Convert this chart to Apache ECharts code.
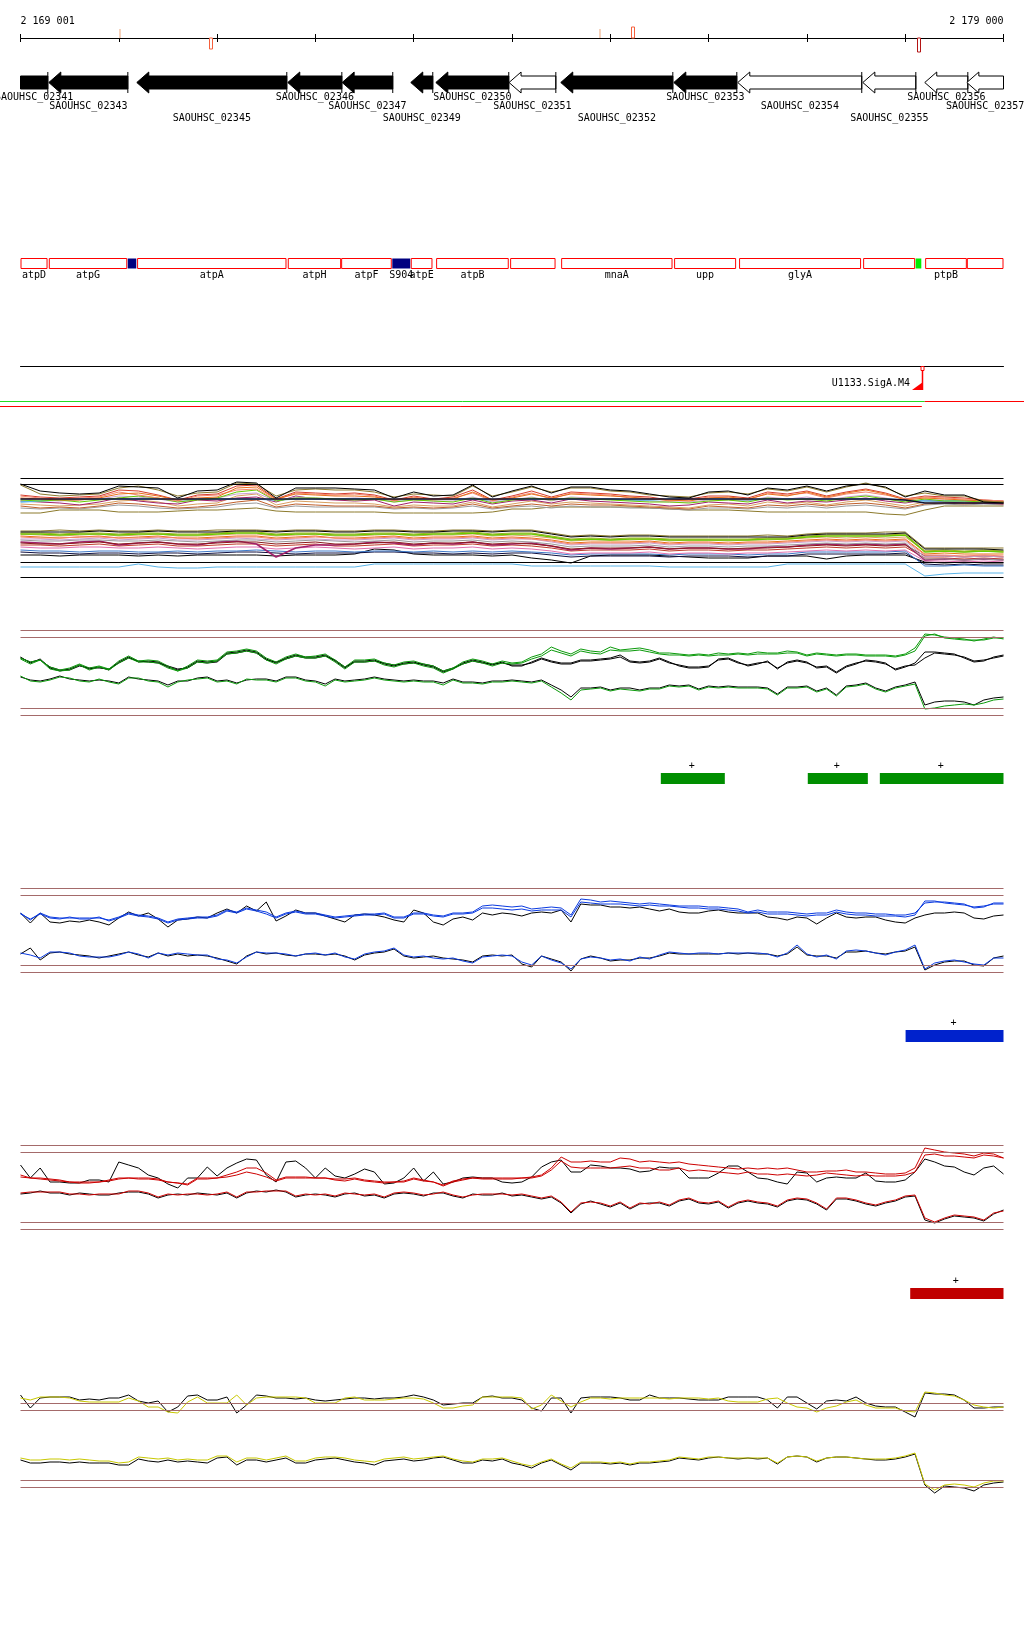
<!DOCTYPE html>
<html><head><meta charset="utf-8">
<script src="https://cdn.jsdelivr.net/npm/echarts@6/dist/echarts.min.js"></script>
<style>html,body{margin:0;padding:0;background:#fff}#c{width:1024px;height:1640px}</style>
</head><body><div id="c"></div>
<script>
// ---------------- data ----------------
const X_MIN = 2169000, X_MAX = 2179000, X_STEP = 1000;
const rulerLabels = ['2 169 001', '2 179 000'];
const rulerMarkPos = [2170010, 2170936, 2174900, 2175236, 2178138];
const rulerMarkType = ['peach', 'red', 'peach', 'redUp', 'dark'];

const geneNames = ['SAOUHSC_02341','SAOUHSC_02343','SAOUHSC_02345','SAOUHSC_02346','SAOUHSC_02347','SAOUHSC_02349','SAOUHSC_02350','SAOUHSC_02351','SAOUHSC_02352','SAOUHSC_02353','SAOUHSC_02354','SAOUHSC_02355','SAOUHSC_02356','SAOUHSC_02357'];
const geneStart = [2168700,2169288,2170183,2171719,2172272,2172970,2173225,2173970,2174496,2175646,2176297,2177569,2178199,2178627];
const geneEnd   = [2169278,2170092,2171709,2172269,2172787,2173194,2173967,2174446,2175636,2176287,2177558,2178108,2178637,2179300];
const geneFilled = [1,1,1,1,1,1,1,0,1,1,0,0,0,0];

const featNames = ['atpD','atpG','','atpA','atpH','atpF','S904','atpE','atpB','','mnaA','upp','glyA','','','ptpB',''];
const featStart = [2168700,2169288,2170086,2170186,2171719,2172262,2172777,2172970,2173228,2173981,2174500,2175649,2176310,2177572,2178101,2178203,2178627];
const featEnd   = [2169275,2170086,2170183,2171706,2172262,2172777,2172970,2173191,2173967,2174443,2175633,2176280,2177551,2178101,2178169,2178627,2179300];
const featKind  = ['box','box','navy','box','box','box','navy','box','box','box','box','box','box','box','green','box','box'];

const sigaPos = 2178169, sigaName = 'U1133.SigA.M4';
const covStart = [2168700, 2178199, 2168700];
const covEnd   = [2178199, 2179400, 2178169];
const covRow   = [0, 0, 1];
const covColor = ['#22dd22', '#ff0000', '#ff0000'];

const greenBoxStart = [2175514, 2177009, 2177742], greenBoxEnd = [2176165, 2177620, 2179000], greenBoxStrand = ['+','+','+'];
const blueBoxStart = [2178004], blueBoxEnd = [2179000], blueBoxStrand = ['+'];
const redBoxStart = [2178051], redBoxEnd = [2179000], redBoxStrand = ['+'];

// sampling positions (every 100 bp)
const positions = Array.from({length: 101}, (_, i) => X_MIN + 100 * i);
const positionsA = positions.filter((_, i) => i % 2 === 0);

// Panel A (multi-sample profiles), 51 points
const UA1 = [94,87,85,84,85,92,91,90,80,87,88,96,95,80,90,90,90,89,88,80,86,82,83,93,81,87,92,85,91,91,88,87,84,81,80,86,87,83,90,88,92,87,92,94,91,81,87,83,83,76,75];
const UA2 = [93,84,82,83,84,90,92,88,82,85,86,95,94,82,88,89,88,88,86,81,84,83,82,92,82,86,91,86,90,90,87,86,83,82,81,85,86,84,89,87,91,86,91,95,90,82,85,82,82,77,76];
const UA3 = [80,79,78,78,80,84,85,82,78,80,81,90,91,79,84,83,82,82,81,78,80,79,79,86,78,80,84,80,84,83,82,81,79,78,77,80,81,79,84,82,86,81,85,88,84,78,80,79,78,77,76];
const UA4 = [82,80,79,80,81,86,83,80,77,82,83,88,89,78,85,84,83,84,82,77,81,78,80,85,77,81,85,79,85,84,83,80,80,77,78,81,80,78,85,83,85,80,84,86,83,79,81,80,79,78,77];
const UA5 = [78,77,78,76,78,80,82,80,76,78,80,86,88,77,80,80,79,78,79,76,78,77,76,80,75,78,80,78,80,79,78,77,76,76,75,77,78,76,80,78,79,77,80,82,79,76,79,77,77,76,76];
const UA6 = [76,77,78,79,79,79,79,79,78,79,79,79,79,78,79,79,79,79,79,78,79,79,79,79,78,79,79,79,79,79,79,78,78,79,79,79,79,78,79,79,79,79,79,79,79,78,77,77,77,77,76];
const UA7 = [77,76,75,73,76,80,77,75,74,78,77,80,81,76,82,79,78,77,78,72,76,75,74,78,74,77,78,75,79,77,76,75,74,72,73,76,75,74,78,75,77,76,78,80,77,75,78,76,75,75,74];
const UA8 = [79,79,79,79,79,79,79,79,79,79,79,79,79,79,79,79,79,79,79,79,79,79,79,79,79,79,79,79,79,79,79,79,79,79,79,79,79,79,79,79,79,79,79,79,79,78,75,75,75,75,75];
const UA9 = [65,65,68,68,68,66,66,66,67,68,68,69,70,67,66,66,66,66,66,65,65,65,65,65,66,69,69,71,71,71,71,71,70,69,68,68,68,67,66,66,66,66,66,66,64,63,68,72,72,72,72];
const UA10 = [72,70,71,70,72,75,74,72,70,71,73,76,78,71,74,73,72,72,72,70,71,70,71,74,70,72,74,72,74,73,73,72,71,70,69,72,71,70,73,72,74,72,74,75,73,70,74,75,74,75,74];
const UA11 = [74,73,72,73,74,77,78,76,72,74,75,82,84,73,77,76,75,75,74,71,73,72,72,76,71,74,77,74,76,75,74,73,72,71,70,73,74,72,76,74,76,73,76,78,75,72,76,76,75,76,75];
const UA12 = [83,81,80,81,82,88,87,83,78,83,84,92,93,79,86,85,84,85,83,78,82,79,81,88,78,82,87,81,86,85,84,82,81,78,79,82,82,80,86,84,87,82,86,89,85,79,82,81,80,78,77];
const UA13 = [79,78,77,78,79,82,81,79,76,79,80,84,85,77,81,80,79,80,79,76,78,77,77,81,76,78,81,77,81,80,79,78,77,76,76,78,78,77,81,79,81,78,81,83,80,76,78,78,77,77,76];
const UA14 = [70,69,70,69,71,73,72,70,69,70,71,74,75,70,72,71,71,71,71,69,70,69,70,72,69,71,72,70,72,71,71,70,70,69,68,70,70,69,71,70,72,70,72,73,71,69,73,74,73,74,73];
const LA1 = [46,46,46,46,47,46,46,47,46,46,46,47,47,46,47,47,46,46,47,47,46,46,47,47,46,47,47,44,41,42,41,42,42,41,41,41,41,41,41,41,43,44,44,44,44,45,29,29,29,29,28];
const LA2 = [47,47,48,47,48,47,47,48,47,47,48,48,48,47,48,48,47,47,48,48,47,47,48,48,47,48,48,45,42,43,42,43,43,42,42,42,42,42,43,42,44,45,45,45,46,46,30,30,30,30,30];
const LA3 = [42,41,40,41,42,40,41,42,40,40,41,42,42,40,41,42,40,40,41,42,40,41,41,42,40,41,40,38,35,36,36,36,37,35,36,36,35,36,36,37,38,39,38,39,38,39,24,25,24,24,24];
const LA4 = [44,44,43,44,44,43,44,44,43,43,44,45,45,43,44,44,43,43,44,44,43,44,44,45,43,44,44,41,38,39,38,39,39,38,38,38,38,38,39,39,41,42,42,42,42,43,26,27,26,27,26];
const LA5 = [36,35,34,36,37,33,35,36,34,33,36,37,34,21,30,33,33,34,36,35,33,35,34,36,33,34,35,32,28,30,29,30,31,29,30,30,29,29,31,31,33,34,33,34,33,34,18,19,18,19,18];
const LA6 = [39,39,38,39,40,38,39,40,38,38,39,40,39,38,39,39,38,38,39,40,38,39,39,40,38,39,39,36,33,34,34,34,35,33,34,34,33,34,34,35,36,37,36,37,36,37,21,22,21,22,21];
const LA7 = [28,27,27,26,27,27,26,26,27,26,27,27,28,27,26,27,27,26,27,27,26,27,26,27,26,27,26,25,23,24,24,24,24,23,24,24,24,23,24,24,26,26,26,26,26,27,12,12,13,12,12];
const LA8 = [23,23,22,23,23,23,22,23,22,23,23,23,23,22,23,23,23,24,29,28,24,23,23,23,22,23,20,18,15,22,23,23,23,22,21,20,20,20,22,22,22,19,22,23,23,23,16,15,16,15,15];
const LA9 = [11,11,11,11,11,11,14,11,10,10,11,11,11,11,11,11,11,11,14,14,14,14,14,14,14,14,12,12,12,12,12,12,12,11,11,11,11,11,11,14,14,14,14,14,14,14,2,4,5,5,5];
const LA10 = [26,25,25,24,25,25,24,25,25,24,25,26,26,25,24,25,25,25,26,26,25,25,24,25,24,25,25,23,21,22,22,22,22,21,22,22,22,21,22,22,24,24,24,24,24,25,14,13,14,13,13];
const LA11 = [33,33,32,33,34,32,33,34,32,32,33,34,34,32,33,34,32,32,33,34,32,33,33,34,32,33,32,30,27,28,28,28,29,27,28,28,27,28,28,29,30,31,30,31,30,31,20,20,19,20,19];
const LA12 = [41,40,40,41,41,40,40,41,40,39,40,41,41,39,40,41,40,39,40,41,39,40,40,41,39,40,39,37,34,35,35,35,36,34,35,35,34,35,35,36,37,38,37,38,37,38,23,23,22,23,22];
const LA13 = [35,34,34,35,36,34,35,36,34,34,35,36,36,34,35,36,34,34,35,36,34,35,35,36,34,35,34,32,29,30,30,30,31,29,30,30,29,30,30,31,32,33,32,33,32,33,22,22,21,22,21];
const LA14 = [44,43,42,43,44,42,43,44,42,42,43,44,44,42,43,44,42,42,43,44,42,43,43,44,42,43,42,40,37,38,38,38,39,37,38,38,37,38,38,39,40,41,40,41,40,41,27,27,26,27,26];
const LA15 = [31,30,30,31,31,30,30,31,30,29,30,31,31,29,30,31,30,29,30,31,29,30,30,31,29,30,29,27,24,25,25,25,26,24,25,25,24,25,25,26,27,28,27,28,27,28,17,17,16,17,16];
const LA16 = [38,37,37,38,38,37,37,38,37,36,37,38,38,36,37,38,37,36,37,38,36,37,37,38,36,37,36,34,31,32,32,32,33,31,32,32,31,32,32,33,34,35,34,35,34,35,19,19,18,19,18];
const LA17 = [45,45,44,45,45,44,45,45,44,44,45,46,46,44,45,45,44,44,45,45,44,45,45,46,44,45,45,42,39,40,39,40,40,39,39,39,39,39,40,40,42,43,43,43,43,44,27,28,27,28,27];
const refA = [99.7, 93.7, 15.7, 0.7];

// Green panel
const GU_k = [63,57,61,52,49,51,55,51,53,50,58,63,58,59,58,53,50,53,59,58,59,67,68,70,68,61,57,62,65,63,63,65,59,52,59,59,60,56,54,57,58,55,53,48,51,57,60,58,55,58,54,54,58,62,59,57,57,60,60,61,62,65,59,58,59,62,58,54,52,52,53,61,62,58,54,56,59,51,58,60,58,52,53,47,53,56,60,59,57,50,53,57,68,68,67,66,62,58,59,63,65];
const GU_k2 = [62,58,60,53,50,50,54,52,52,51,57,62,59,58,57,54,51,52,58,57,58,66,67,69,67,60,58,61,64,62,62,64,60,53,58,58,59,57,55,56,57,56,54,49,52,56,59,57,56,57,55,55,57,61,58,56,56,59,59,60,61,63,58,57,58,61,57,55,53,53,54,60,61,57,55,57,58,52,57,59,57,53,54,48,54,57,59,58,56,51,54,55,62,67,66,65,63,59,60,62,64];
const GU_c1 = [62,58,60,53,50,52,56,52,54,51,59,64,59,60,59,54,49,54,60,59,60,68,69,71,69,62,58,63,66,63,64,66,60,53,60,60,61,57,55,58,59,56,54,49,52,58,61,59,56,59,57,58,63,66,73,69,66,71,69,68,73,70,71,72,70,67,67,66,65,66,65,67,66,67,66,68,67,67,69,68,65,67,66,65,66,66,65,65,65,64,66,72,86,85,83,82,81,79,81,83,81];
const GU_c2 = [61,56,60,51,49,50,55,50,53,50,57,62,58,58,57,52,49,52,58,57,59,66,67,69,67,60,56,61,64,62,62,64,58,51,58,58,59,55,53,56,57,54,52,47,51,56,59,57,54,57,56,57,61,64,70,67,64,69,67,66,70,69,69,70,68,66,65,65,64,65,64,65,65,66,65,66,66,66,67,67,64,66,65,64,65,65,64,64,64,63,65,69,84,86,82,81,80,80,80,82,82];
const GL_k = [43,40,39,41,44,41,40,39,40,39,37,43,41,40,39,35,39,39,42,43,39,40,37,40,41,41,39,43,43,40,39,36,41,39,40,41,43,41,40,39,40,39,39,37,41,38,38,37,39,39,40,39,38,40,35,30,23,32,32,33,30,32,32,30,32,32,35,34,35,31,34,33,34,33,33,33,32,26,33,33,34,29,32,25,34,35,37,32,29,33,35,38,15,18,19,19,18,15,20,22,23];
const GL_c = [44,39,38,40,43,42,39,38,41,38,36,42,42,39,38,33,38,40,41,42,38,39,36,41,40,40,38,42,42,39,38,34,40,38,39,40,42,40,39,38,39,38,38,35,40,37,37,36,38,38,39,38,37,39,33,27,20,30,31,32,29,31,30,29,31,31,34,33,34,30,33,32,33,32,32,32,31,25,32,32,33,28,31,24,33,34,36,31,28,32,34,36,11,12,14,15,16,15,17,20,21];
const refGreen = [89.7, 82.7, 11.7, 4.7];

// Blue panel
const BU_k = [67,57,67,58,57,59,58,60,58,55,62,68,64,67,61,53,60,61,63,62,67,71,67,74,69,78,59,64,70,67,67,64,61,58,65,66,65,63,60,58,70,67,58,55,61,63,60,67,65,67,66,64,67,68,67,70,58,76,75,75,73,73,72,73,71,69,71,68,67,67,69,70,68,67,67,67,63,62,60,63,62,56,62,67,63,62,63,63,60,58,57,62,65,67,67,68,67,62,61,64,65];
const BU_c1 = [67,60,67,63,62,62,62,62,62,60,63,67,65,64,62,58,61,62,63,63,65,70,68,72,70,68,63,67,69,67,67,65,63,64,65,66,66,67,63,63,67,67,65,64,67,67,68,74,75,74,73,74,71,72,73,72,65,81,80,78,79,78,77,76,77,76,75,74,74,74,73,73,72,71,68,70,68,68,68,67,66,67,67,70,68,67,67,66,66,65,65,67,77,78,78,77,76,72,73,77,77];
const BU_c2 = [66,61,66,62,61,63,61,61,63,59,62,66,64,63,61,57,60,61,62,62,64,69,67,71,69,66,62,66,68,66,66,64,62,63,64,65,65,66,62,62,66,66,64,63,66,66,67,72,72,71,70,71,69,70,70,70,63,78,77,76,76,76,75,74,75,74,74,73,72,72,71,71,70,69,67,68,66,66,66,65,64,65,65,68,66,65,65,64,64,64,63,65,79,79,77,76,75,73,74,76,76];
const BL_k = [26,32,20,27,28,26,25,24,22,24,26,28,25,23,27,24,26,24,25,24,22,19,16,24,28,26,27,25,24,26,26,25,26,24,20,25,27,28,31,24,22,23,24,22,21,20,18,24,25,24,25,16,13,24,21,18,9,21,24,22,19,20,20,22,22,24,27,26,26,26,26,26,27,26,27,26,26,24,26,33,25,24,24,22,28,28,29,27,26,28,29,33,10,15,18,19,19,15,14,22,24];
const BL_c = [27,25,22,28,28,27,24,23,23,23,25,28,26,22,27,25,27,26,25,25,21,20,17,23,28,27,27,26,24,26,27,25,27,23,21,26,28,29,32,25,23,24,22,21,22,19,17,23,24,25,24,18,15,24,20,17,11,21,23,22,20,21,19,23,21,25,28,27,26,27,27,26,27,27,27,27,26,23,27,35,26,23,25,21,29,30,29,27,25,28,30,35,11,17,19,20,18,16,15,22,22];
const refBlue = [91.7, 84.7, 14.7, 7.7];

// Red panel
const RU_k = [70,57,67,53,53,52,52,55,55,53,73,70,67,60,57,51,47,57,57,68,59,67,72,76,75,60,53,73,74,67,57,67,59,57,61,66,63,51,52,57,67,54,63,51,53,57,58,57,57,53,52,53,58,68,73,75,63,63,70,69,67,67,66,63,64,68,67,67,57,57,57,62,69,69,63,57,56,53,51,63,62,53,57,58,57,57,62,54,53,53,55,63,76,73,69,68,63,60,67,69,61];
const RU_c1 = [60,57,57,56,55,53,53,53,53,55,57,57,57,57,56,53,52,51,57,57,57,60,63,67,67,62,55,58,58,58,57,57,56,56,57,55,54,53,53,54,57,55,53,50,54,56,57,57,57,57,57,57,58,60,67,78,73,73,74,73,73,77,76,73,74,73,72,73,71,70,69,68,67,66,67,66,67,66,67,65,63,63,64,64,65,63,63,62,61,61,62,67,87,85,83,82,81,79,82,81,77];
const RU_c2 = [58,57,56,55,54,53,52,52,53,54,56,57,56,56,55,53,52,50,56,56,57,58,60,63,61,58,54,57,57,57,57,57,55,54,56,54,53,52,53,53,56,54,53,49,53,55,57,56,56,56,56,57,57,59,65,74,68,67,67,67,67,68,69,67,67,65,65,67,64,65,64,63,62,61,63,61,61,60,61,60,59,60,62,61,60,59,60,59,59,59,60,63,80,81,79,79,78,77,80,79,77];
const RL_k = [41,42,44,42,42,40,42,41,40,40,42,43,43,41,37,40,41,40,42,41,40,42,37,42,44,43,45,43,38,40,41,40,38,41,42,39,40,37,41,42,41,39,42,42,39,37,41,40,40,42,39,40,38,36,38,32,22,31,34,31,28,32,26,31,32,32,29,34,36,32,31,33,27,32,34,32,31,28,34,36,35,31,25,36,36,34,31,29,32,34,38,39,15,12,16,19,18,17,14,21,25];
const RL_c = [42,43,43,43,43,41,41,40,41,41,41,44,44,42,38,41,40,41,41,40,41,43,38,43,43,44,44,44,39,41,40,41,39,42,41,40,41,38,42,43,42,40,41,43,40,38,40,41,41,41,40,41,39,37,39,33,23,32,33,32,29,33,27,32,31,33,30,35,37,33,32,34,28,33,35,33,32,29,35,37,36,32,26,37,37,35,32,30,33,35,39,40,17,13,17,20,19,18,15,22,24];
const refRed = [89.7, 82.7, 12.7, 5.7];

// Yellow panel
const YU_k = [105,92,102,103,103,103,100,101,100,102,102,105,99,97,99,88,93,104,105,100,100,103,87,95,105,104,102,102,101,102,100,99,100,101,102,102,101,102,102,103,105,103,100,95,96,97,97,103,104,102,102,100,92,89,102,102,87,102,103,103,103,102,100,100,105,102,102,102,101,100,100,100,103,103,103,103,100,92,103,103,97,91,99,100,99,103,97,94,93,93,88,83,107,106,106,105,100,92,92,93,93];
const YU_c = [102,100,103,103,103,102,99,98,98,98,98,102,99,93,93,88,87,98,103,97,97,97,105,95,102,103,103,103,103,102,97,97,97,102,103,100,100,100,101,102,102,101,97,92,92,94,95,103,103,103,103,102,91,95,105,99,93,98,102,102,101,102,102,102,102,102,101,102,102,102,101,102,99,98,98,98,101,102,97,93,92,88,92,94,98,100,95,92,92,92,89,88,108,107,105,104,100,95,93,92,93];
const YL_k = [40,37,37,38,38,37,38,37,37,37,35,35,41,39,38,40,38,39,38,37,42,43,35,40,40,38,40,42,37,37,40,41,42,40,38,37,35,39,40,41,39,40,42,43,40,37,37,40,39,41,37,35,32,37,40,35,30,37,37,37,36,37,35,37,37,38,39,42,41,40,42,43,42,41,42,41,42,36,43,44,43,38,42,43,43,42,41,40,40,41,43,46,15,7,14,13,12,9,15,17,18];
const YL_c = [42,40,40,41,41,40,41,40,39,39,37,38,43,42,41,42,40,41,40,40,44,44,38,42,42,40,42,44,39,39,42,43,43,42,40,39,38,41,42,43,41,42,43,44,41,39,38,41,41,42,39,36,34,38,41,36,32,38,38,38,37,38,36,38,38,39,40,43,42,41,43,43,42,42,42,42,42,37,43,44,43,39,42,43,43,42,41,41,41,42,44,47,16,10,15,16,15,13,17,19,19];
const refYellow = [96.7, 89.7, 20, 12.7];

// ---------------- layout / styles ----------------
const FONT = "'DejaVu Sans Mono', monospace";
const BROWN = '#a46a6a';
const grids = [
  {top: 38, height: 1},     // 0 ruler
  {top: 72, height: 21},    // 1 genes
  {top: 258, height: 10},   // 2 features
  {top: 366, height: 40},   // 3 siga + coverage
  {top: 478, height: 100},  // 4 panel A
  {top: 620, height: 100},  // 5 green
  {top: 773, height: 11},   // 6 green boxes
  {top: 880, height: 100},  // 7 blue
  {top: 1030, height: 12},  // 8 blue box
  {top: 1135, height: 100}, // 9 red
  {top: 1288, height: 11},  // 10 red box
  {top: 1380, height: 120}  // 11 yellow
].map(g => Object.assign({left: 20.5, width: 983, containLabel: false}, g));

const yRanges = [[0,1],[0,1],[0,1],[0,1],[0,100],[0,100],[0,1],[0,100],[0,1],[0,100],[0,1],[0,120]];

const xAxes = grids.map((g, gi) => ({
  gridIndex: gi, type: 'value', min: X_MIN, max: X_MAX, interval: X_STEP,
  position: 'top', show: gi === 0 || gi === 3,
  axisLine: {show: true, onZero: false, lineStyle: {color: '#000', width: 1}},
  axisTick: {show: gi === 0, length: 4, lineStyle: {color: '#000'}},
  axisLabel: gi === 0 ? {
    show: true, margin: 12, fontFamily: FONT, fontSize: 10, color: '#000',
    showMinLabel: true, showMaxLabel: true, alignMinLabel: 'left', alignMaxLabel: 'right',
    formatter: v => v === X_MIN ? rulerLabels[0] : (v === X_MAX ? rulerLabels[1] : '')
  } : {show: false},
  splitLine: {show: false}
}));
xAxes.push({
  gridIndex: 0, type: 'value', min: X_MIN, max: X_MAX, interval: X_STEP, position: 'bottom',
  axisLine: {show: false, onZero: false}, axisTick: {show: true, length: 3, lineStyle: {color: '#000'}},
  axisLabel: {show: false}, splitLine: {show: false}
});
const yAxes = grids.map((g, gi) => ({gridIndex: gi, type: 'value', min: yRanges[gi][0], max: yRanges[gi][1], show: false}));

function clipX(cs, a, b) { return [Math.max(a, cs.x), Math.min(b, cs.x + cs.width)]; }
const textStyle = (text, x, y, align) => ({text, x, y, align: align || 'center', verticalAlign: 'middle', fontFamily: FONT, fontSize: 10, fill: '#000'});

const series = [];

// ruler marks
const markStyle = {
  peach: {up: true, h: 9, w: 2, stroke: null, fill: '#f6d2bc'},
  red: {up: false, h: 11, w: 3, stroke: '#f5603c', fill: '#fff'},
  redUp: {up: true, h: 11, w: 3, stroke: '#f5603c', fill: '#fff'},
  dark: {up: false, h: 14, w: 3, stroke: '#b41414', fill: '#fff'}
};
series.push({
  type: 'custom', xAxisIndex: 0, yAxisIndex: 0, silent: true, animation: false, z: 5,
  data: rulerMarkPos.map((p, i) => [p, i]),
  renderItem(params, api) {
    const cs = params.coordSys, x = api.coord([api.value(0), 0])[0];
    const st = markStyle[rulerMarkType[api.value(1)]];
    const y = st.up ? cs.y - st.h : cs.y;
    return {type: 'rect', shape: {x: Math.round(x) - st.w / 2, y, width: st.w, height: st.h},
      style: st.stroke ? {fill: st.fill, stroke: st.stroke, lineWidth: 1} : {fill: st.fill}};
  }
});

// genes
const labelRowOffset = [4.5, 13.5, 25];
series.push({
  type: 'custom', xAxisIndex: 1, yAxisIndex: 1, silent: true, animation: false,
  data: geneNames.map((n, i) => [geneStart[i], geneEnd[i], geneFilled[i], i]),
  renderItem(params, api) {
    const cs = params.coordSys, idx = api.value(3);
    const x1r = api.coord([api.value(0), 0])[0], x2r = api.coord([api.value(1), 0])[0];
    const [x1, x2] = clipX(cs, x1r, x2r);
    const top = cs.y, bot = cs.y + cs.height, bt = top + 4, bb = bot - 4, mid = (top + bot) / 2, head = 12;
    const fill = api.value(2) ? '#000' : '#fff';
    const pts = x1r >= cs.x
      ? [[x1, mid], [x1 + head, top], [x1 + head, bt], [x2, bt], [x2, bb], [x1 + head, bb], [x1 + head, bot]]
      : [[x1, bt], [x2, bt], [x2, bb], [x1, bb]];
    const ch = [{type: 'polygon', shape: {points: pts}, style: {fill, stroke: '#000', lineWidth: 1}}];
    if (x2r <= cs.x + cs.width) ch.push({type: 'line', shape: {x1: x2, y1: top, x2: x2, y2: bot}, style: {stroke: '#000', lineWidth: 1}});
    ch.push({type: 'text', style: textStyle(geneNames[idx], (x1 + x2) / 2, bot + labelRowOffset[idx % 3])});
    return {type: 'group', children: ch};
  }
});

// features
const featFill = {box: '#fff', navy: '#000080', green: '#00ee00'};
series.push({
  type: 'custom', xAxisIndex: 2, yAxisIndex: 2, silent: true, animation: false,
  data: featNames.map((n, i) => [featStart[i], featEnd[i], i]),
  renderItem(params, api) {
    const cs = params.coordSys, idx = api.value(2), kind = featKind[idx];
    const [x1, x2] = clipX(cs, api.coord([api.value(0), 0])[0], api.coord([api.value(1), 0])[0]);
    const ch = [{type: 'rect', shape: {x: x1 + 0.5, y: cs.y + 0.5, width: x2 - x1 - 1, height: cs.height},
      style: kind === 'box' ? {fill: '#fff', stroke: '#ff0000', lineWidth: 1} : {fill: featFill[kind]}}];
    if (featNames[idx]) ch.push({type: 'text', style: textStyle(featNames[idx], (x1 + x2) / 2, cs.y + cs.height + 7)});
    return {type: 'group', children: ch};
  }
});

// SigA site
series.push({
  type: 'custom', xAxisIndex: 3, yAxisIndex: 3, silent: true, animation: false, z: 5,
  data: [[sigaPos, 0]],
  renderItem(params, api) {
    const cs = params.coordSys, x = Math.round(api.coord([api.value(0), 0])[0]), y0 = cs.y;
    return {type: 'group', children: [
      {type: 'rect', shape: {x: x - 1, y: y0 + 0.5, width: 3, height: 4}, style: {fill: '#fff', stroke: '#ff0000', lineWidth: 1}},
      {type: 'line', shape: {x1: x + 0.5, y1: y0 + 5, x2: x + 0.5, y2: y0 + 24}, style: {stroke: '#ff0000', lineWidth: 1.5}},
      {type: 'polygon', shape: {points: [[x - 10, y0 + 24], [x + 1, y0 + 24], [x + 1, y0 + 16]]}, style: {fill: '#ff0000'}},
      {type: 'text', style: textStyle(sigaName, x - 12, y0 + 17, 'right')}
    ]};
  }
});
// coverage lines
series.push({
  type: 'custom', xAxisIndex: 3, yAxisIndex: 3, silent: true, animation: false,
  data: covStart.map((s, i) => [s, covEnd[i], i]),
  renderItem(params, api) {
    const cs = params.coordSys, i = api.value(2);
    const a = Math.max(0, api.coord([api.value(0), 0])[0]), b = Math.min(1024, api.coord([api.value(1), 0])[0]);
    const y = cs.y + 35.5 + covRow[i] * 5;
    return {type: 'line', shape: {x1: a, y1: y, x2: b, y2: y}, style: {stroke: covColor[i], lineWidth: 1}};
  }
});

// strand boxes
function boxSeries(gi, starts, ends, strands, color) {
  return {
    type: 'custom', xAxisIndex: gi, yAxisIndex: gi, silent: true, animation: false,
    data: starts.map((s, i) => [s, ends[i], i]),
    renderItem(params, api) {
      const cs = params.coordSys;
      const [x1, x2] = clipX(cs, api.coord([api.value(0), 0])[0], api.coord([api.value(1), 0])[0]);
      return {type: 'group', children: [
        {type: 'rect', shape: {x: x1, y: cs.y, width: x2 - x1, height: cs.height}, style: {fill: color}},
        {type: 'text', style: textStyle(strands[api.value(2)], (x1 + x2) / 2 - 1, cs.y - 7)}
      ]};
    }
  };
}
series.push(boxSeries(6, greenBoxStart, greenBoxEnd, greenBoxStrand, '#008e00'));
series.push(boxSeries(8, blueBoxStart, blueBoxEnd, blueBoxStrand, '#0022cc'));
series.push(boxSeries(10, redBoxStart, redBoxEnd, redBoxStrand, '#c00000'));

// line helpers
function lineS(gi, xs, ys, color, width, z) {
  return {type: 'line', xAxisIndex: gi, yAxisIndex: gi, data: xs.map((x, i) => [x, ys[i]]),
    symbol: 'none', showSymbol: false, silent: true, animation: false, clip: false, z: z || 2,
    lineStyle: {color, width: width || 1}, itemStyle: {color}};
}
function refS(gi, vals, color) {
  return {type: 'line', xAxisIndex: gi, yAxisIndex: gi, data: [], silent: true, animation: false, z: 1,
    markLine: {silent: true, symbol: 'none', animation: false, label: {show: false},
      lineStyle: {color, width: 1, type: 'solid'}, data: vals.map(v => ({yAxis: v}))}};
}

// Panel A
series.push(refS(4, refA, '#000'));
[[UA9, '#8c7a2c', 1], [UA14, '#9a9a9a', 1], [UA10, '#c0602c', 1], [UA11, '#d8a060', 1], [UA7, '#a0206a', 1],
 [UA13, '#c8a0d0', 1], [UA6, '#5ab4e8', 1.5], [UA5, '#66cc00', 1], [UA12, '#d43c2c', 1],
 [UA4, '#f4836e', 1], [UA3, '#e8701a', 1], [UA8, '#101030', 1.5], [UA2, '#8c7a2c', 1], [UA1, '#000000', 1],
 [LA9, '#5ab4e8', 1], [LA8, '#000000', 1], [LA10, '#101040', 1], [LA7, '#3c78c8', 1], [LA15, '#e070b0', 1],
 [LA11, '#c03c2c', 1], [LA5, '#a0206a', 1.5], [LA13, '#8b1a1a', 1], [LA16, '#9a9a9a', 1],
 [LA6, '#c8a0d0', 1], [LA3, '#e8701a', 1], [LA12, '#f4836e', 1], [LA14, '#d8a060', 1], [LA4, '#66cc00', 1.5],
 [LA17, '#99b020', 1], [LA2, '#8c7a2c', 1], [LA1, '#000000', 1]]
  .forEach(([arr, c, w]) => series.push(lineS(4, positionsA, arr, c, w)));

// strand panels
function strandPanel(gi, refs, upK, upC1, upC2, loK, loC, color, upK2) {
  series.push(refS(gi, refs, BROWN));
  series.push(lineS(gi, positions, upK, '#000', 1));
  if (upK2) series.push(lineS(gi, positions, upK2, '#000', 1));
  series.push(lineS(gi, positions, loK, '#000', 1));
  series.push(lineS(gi, positions, upC2, color, 1, 3));
  series.push(lineS(gi, positions, upC1, color, 1, 3));
  series.push(lineS(gi, positions, loC, color, 1, 3));
}
strandPanel(5, refGreen, GU_k, GU_c1, GU_c2, GL_k, GL_c, '#0a9a0a', GU_k2);
strandPanel(7, refBlue, BU_k, BU_c1, BU_c2, BL_k, BL_c, '#0a3ae0');
strandPanel(9, refRed, RU_k, RU_c1, RU_c2, RL_k, RL_c, '#cc0000');
series.push(refS(11, refYellow, BROWN));
series.push(lineS(11, positions, YU_k, '#000', 1));
series.push(lineS(11, positions, YL_k, '#000', 1));
series.push(lineS(11, positions, YU_c, '#c8c800', 1, 3));
series.push(lineS(11, positions, YL_c, '#c8c800', 1, 3));

const chart = echarts.init(document.getElementById('c'), null, {renderer: 'canvas'});
chart.setOption({
  animation: false, backgroundColor: '#fff',
  grid: grids, xAxis: xAxes, yAxis: yAxes, series
});
</script></body></html>
